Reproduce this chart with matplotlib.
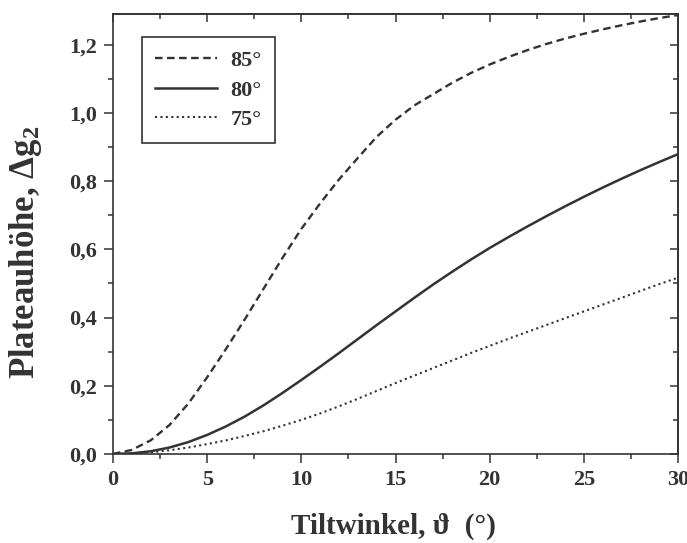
"""Plateauhöhe in Abhängigkeit vom Tiltwinkel für drei Winkel."""

import matplotlib.pyplot as plt
from matplotlib.ticker import MultipleLocator, FuncFormatter

tilt = list(range(0, 31))

dg_85 = [0.0, 0.012, 0.04, 0.085, 0.148, 0.225, 0.308, 0.395, 0.485, 0.575,
         0.66, 0.735, 0.805, 0.868, 0.93, 0.98, 1.022, 1.055, 1.088, 1.117,
         1.142, 1.164, 1.184, 1.202, 1.218, 1.232, 1.245, 1.257, 1.268, 1.278,
         1.287]
dg_80 = [0.0, 0.002, 0.008, 0.019, 0.035, 0.056, 0.081, 0.110, 0.143, 0.179,
         0.217, 0.256, 0.296, 0.337, 0.378, 0.418, 0.458, 0.497, 0.534, 0.570,
         0.604, 0.636, 0.667, 0.697, 0.726, 0.754, 0.781, 0.807, 0.832, 0.856,
         0.879]
dg_75 = [0.0, 0.001, 0.005, 0.011, 0.019, 0.029, 0.040, 0.053, 0.067, 0.083,
         0.100, 0.119, 0.140, 0.162, 0.185, 0.208, 0.230, 0.252, 0.274, 0.296,
         0.317, 0.338, 0.358, 0.378, 0.398, 0.418, 0.438, 0.458, 0.478, 0.498,
         0.517]

labels = ["85°", "80°", "75°"]

plt.rcParams["font.family"] = ["Liberation Serif", "DejaVu Serif"]
plt.rcParams["font.weight"] = "bold"
plt.rcParams["axes.labelweight"] = "bold"
plt.rcParams["mathtext.fontset"] = "custom"
plt.rcParams["mathtext.rm"] = "Liberation Serif:bold"
plt.rcParams["mathtext.it"] = "Liberation Serif:bold"
plt.rcParams["mathtext.bf"] = "Liberation Serif:bold"

ink = "#333333"

fig = plt.figure(figsize=(6.87, 5.43), dpi=100)
ax = fig.add_axes([0.1645, 0.1639, 0.8224, 0.8103])

ax.plot(tilt, dg_85, color=ink, lw=1.7, dashes=(3.2, 1.9), label=labels[0])
ax.plot(tilt, dg_80, color=ink, lw=1.8, label=labels[1])
ax.plot(tilt, dg_75, color=ink, lw=1.5, dashes=(1.0, 1.6), label=labels[2])

ax.set_xlim(0, 30)
ax.set_ylim(0, 1.29)

ax.xaxis.set_major_locator(MultipleLocator(5))
ax.xaxis.set_minor_locator(MultipleLocator(2.5))
ax.yaxis.set_major_locator(MultipleLocator(0.2))
ax.yaxis.set_minor_locator(MultipleLocator(0.1))
ax.yaxis.set_major_formatter(FuncFormatter(lambda v, p: f"{v:.1f}".replace(".", ",")))

ax.tick_params(which="both", direction="out", colors=ink, labelsize=16, width=1.1)
ax.tick_params(which="major", length=6.5, pad=5)
ax.tick_params(which="minor", length=3.6)
for s in ax.spines.values():
    s.set_color(ink)
    s.set_linewidth(1.2)

# Gegenachsen oben und rechts mit Ticks nach innen
top = ax.secondary_xaxis("top")
top.xaxis.set_major_locator(MultipleLocator(5))
top.xaxis.set_minor_locator(MultipleLocator(2.5))
top.tick_params(which="both", direction="in", colors=ink, labeltop=False, width=1.1)
top.tick_params(which="major", length=6)
top.tick_params(which="minor", length=3.5)
top.spines["top"].set_color(ink)
top.spines["top"].set_linewidth(1.2)

right = ax.secondary_yaxis("right")
right.yaxis.set_major_locator(MultipleLocator(0.2))
right.yaxis.set_minor_locator(MultipleLocator(0.1))
right.tick_params(which="both", direction="in", colors=ink, labelright=False, width=1.1)
right.tick_params(which="major", length=6)
right.tick_params(which="minor", length=3.5)
right.spines["right"].set_color(ink)
right.spines["right"].set_linewidth(1.2)

ax.set_xlabel("Tiltwinkel, ϑ  (°)", fontsize=21, color=ink)
ax.set_ylabel("Plateauhöhe, Δg$_2$", fontsize=25, color=ink)
ax.xaxis.set_label_coords(0.497, -0.133)
ax.yaxis.set_label_coords(-0.122, 0.459)

leg = ax.legend(loc="upper left", bbox_to_anchor=(0.051, 0.947), borderaxespad=0,
                fontsize=16, handlelength=2.8, handletextpad=0.6, labelspacing=0.4,
                borderpad=0.6, fancybox=False, framealpha=1, labelcolor=ink)
leg.get_frame().set_edgecolor(ink)
leg.get_frame().set_linewidth(1.2)

fig.savefig("out.png", dpi=100)
plt.close(fig)
